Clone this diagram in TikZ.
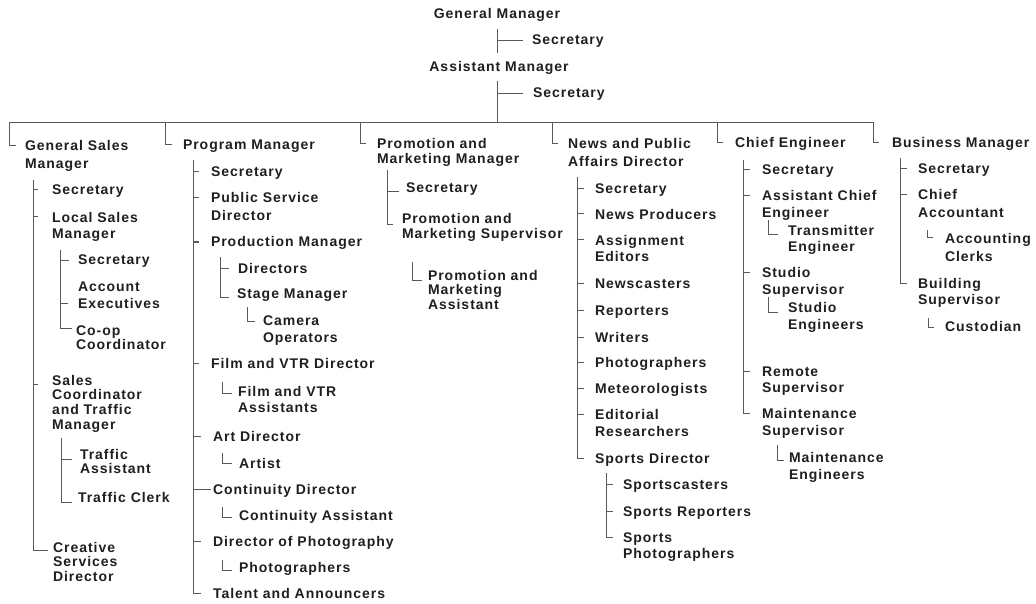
\documentclass[tikz,border=0pt]{standalone}
\usepackage{fontspec}
\newfontfamily\orgfont{Liberation Sans}[LetterSpace=7]
\definecolor{ink}{gray}{0.12}
\definecolor{wirec}{gray}{0.35}
\newcommand\capstrut{\rule{0pt}{10.5pt}}
\tikzset{
  lbl/.style={anchor=north west, yshift=5.5pt, inner sep=0pt, outer sep=0pt,
    align=left, text=ink, font=\orgfont\bfseries\fontsize{14pt}{17.5pt}\selectfont},
  tight/.style={font=\orgfont\bfseries\fontsize{14pt}{14.8pt}\selectfont},
  mid/.style={font=\orgfont\bfseries\fontsize{14pt}{16.5pt}\selectfont},
  ctr/.style={anchor=north},
  wire/.style={draw=wirec, line width=1pt},
}
% #1 style, #2 name, #3 position of first line, #4 gap before text, #5 tick drop, #6 text
\newcommand\kid[6]{%
  \node[lbl,#1] (#2) at (#3) {\capstrut#6};
  \coordinate (#2-t) at ([shift={(-#4pt,-#5pt)}]#2.north west);
}
% trunk from its top down to the last member, ending in a corner
\newcommand\orgtrunk[2]{\draw[wire] (#1) |- (#2-t);}
% short branch from a trunk to a member
\newcommand\orgtick[2]{\draw[wire] (#1 |- #2-t) -- (#2-t);}
% small L-shaped link to a single subordinate
\newcommand\elbow[3]{\draw[wire] (#1-t) -| ++(-#2pt,#3pt);}
% department head hanging from the long bar
\newcommand\orghead[2]{\draw[wire] (#1-t) -- ++(-#2pt,0pt) |- (bar);}
\begin{document}
\begin{tikzpicture}[x=1pt,y=-1pt]
\useasboundingbox[fill=white] (0,0) rectangle (1036,604);

% ---- top management
\kid{ctr}{gm}{497,14}{9}{5.5}{General Manager}
\kid{}{gms}{532,40}{9}{6.5}{Secretary}
\kid{ctr}{am}{499,67}{9}{5.5}{Assistant Manager}
\kid{}{ams}{533,93}{10}{6.5}{Secretary}
\coordinate (gm-r) at ([yshift=-7pt]gm.south);
\coordinate (am-top) at ([yshift=8pt]am.north);
\coordinate (am-r) at (497,81);
\coordinate (bar) at (497,123);
\draw[wire] (gm-r) -- (gm-r |- am-top);
\orgtick{gm-r}{gms}
\draw[wire] (am-r) -- (bar);
\orgtick{am-r}{ams}

% ---- general sales
\kid{}{gsm}{25,146}{9}{5.5}{General Sales\\Manager}
\orghead{gsm}{7}
\coordinate (gsm-r) at (33,180);
\kid{}{gss}{52,190}{14}{5.5}{Secretary}
\kid{mid}{lsm}{52,217}{14}{5.5}{Local Sales\\Manager}
\kid{tight}{scm}{52,380}{14}{9.5}{Sales\\Coordinator\\and Traffic\\Manager}
\kid{tight}{csd}{53,547}{5}{8.5}{Creative\\Services\\Director}
\orgtrunk{gsm-r}{csd}
\orgtick{gsm-r}{gss}
\orgtick{gsm-r}{lsm}
\orgtick{gsm-r}{scm}

\coordinate (lsm-r) at (60,250);
\kid{}{lss}{78,260}{9}{5.5}{Secretary}
\kid{}{ae}{78,286}{10}{22.5}{Account\\Executives}
\kid{tight}{coop}{76,330}{4}{3.5}{Co-op\\Coordinator}
\orgtrunk{lsm-r}{coop}
\orgtick{lsm-r}{lss}
\orgtick{lsm-r}{ae}

\coordinate (scm-r) at (61,438);
\kid{tight}{tas}{80,454}{8}{10.5}{Traffic\\Assistant}
\kid{}{tcl}{78,497}{6}{10.5}{Traffic Clerk}
\orgtrunk{scm-r}{tcl}
\orgtick{scm-r}{tas}

% ---- programming
\kid{}{pm}{183,145}{11}{5.5}{Program Manager}
\orghead{pm}{7}
\coordinate (pm-r) at (193,160);
\kid{}{pms}{211,172}{12}{5.5}{Secretary}
\kid{}{psd}{211,198}{12}{5.5}{Public Service\\Director}
\kid{}{prm}{211,242}{12}{5.5}{Production Manager}
\kid{}{fvd}{211,363}{12}{5.5}{Film and VTR Director}
\kid{}{ard}{213,436}{12}{5.5}{Art Director}
\kid{}{cnd}{213,489}{2}{5.5}{Continuity Director}
\kid{}{dph}{213,541}{12}{5.5}{Director of Photography}
\kid{}{tan}{213,593}{12}{5.5}{Talent and Announcers}
\orgtrunk{pm-r}{tan}
\foreach \k in {pms,psd,prm,fvd,ard,cnd,dph} {\orgtick{pm-r}{\k}}

\coordinate (prm-r) at (220,257);
\kid{}{dir}{238,268}{9}{5.5}{Directors}
\kid{}{stm}{237,293}{8}{9.5}{Stage Manager}
\orgtrunk{prm-r}{stm}
\orgtick{prm-r}{dir}
\kid{}{cam}{263,320}{8}{6.5}{Camera\\Operators}
\elbow{cam}{8}{14}
\kid{mid}{fva}{238,391}{6}{7.5}{Film and VTR\\Assistants}
\elbow{fva}{10}{11}
\kid{}{art}{239,463}{7}{5.5}{Artist}
\elbow{art}{10}{10}
\kid{}{cna}{239,515}{7}{7.5}{Continuity Assistant}
\elbow{cna}{10}{10}
\kid{}{pho}{239,567}{7}{8.5}{Photographers}
\elbow{pho}{10}{10}

% ---- promotion
\kid{tight}{pmm}{377,144}{11}{5.5}{Promotion and\\Marketing Manager}
\orghead{pmm}{6}
\coordinate (pmm-r) at (387,170);
\kid{}{pmse}{406,188}{7}{9.5}{Secretary}
\kid{tight}{pmsu}{402,219}{9}{11.5}{Promotion and\\Marketing Supervisor}
\orgtrunk{pmm-r}{pmsu}
\orgtick{pmm-r}{pmse}
\kid{tight}{pma}{428,275}{6}{10.5}{Promotion and\\Marketing\\Assistant}
\elbow{pma}{10}{18}

% ---- news
\kid{}{npa}{568,144}{10}{5.5}{News and Public\\Affairs Director}
\orghead{npa}{6}
\coordinate (npa-r) at (577,177);
\kid{}{nsec}{595,189}{11}{5.5}{Secretary}
\kid{}{npr}{595,214}{11}{5.5}{News Producers}
\kid{mid}{aed}{595,240}{11}{5.5}{Assignment\\Editors}
\kid{}{ncs}{595,283}{11}{5.5}{Newscasters}
\kid{}{rep}{595,310}{11}{5.5}{Reporters}
\kid{}{wri}{595,337}{11}{5.5}{Writers}
\kid{}{pht}{595,362}{11}{5.5}{Photographers}
\kid{}{met}{595,388}{11}{5.5}{Meteorologists}
\kid{}{edr}{595,414}{11}{5.5}{Editorial\\Researchers}
\kid{}{spd}{595,458}{11}{5.5}{Sports Director}
\orgtrunk{npa-r}{spd}
\foreach \k in {nsec,npr,aed,ncs,rep,wri,pht,met,edr} {\orgtick{npa-r}{\k}}

\coordinate (spd-r) at (606,473);
\kid{}{scs}{623,484}{10}{5.5}{Sportscasters}
\kid{}{spr}{623,511}{10}{5.5}{Sports Reporters}
\kid{mid}{sph}{623,537}{10}{5.5}{Sports\\Photographers}
\orgtrunk{spd-r}{sph}
\orgtick{spd-r}{scs}
\orgtick{spd-r}{spr}

% ---- engineering
\kid{}{ce}{735,143}{12}{5.5}{Chief Engineer}
\orghead{ce}{6}
\coordinate (ce-r) at (743,160);
\kid{}{csec}{762,170}{12}{5.5}{Secretary}
\kid{mid}{ace}{762,196}{12}{5.5}{Assistant Chief\\Engineer}
\kid{}{ssu}{762,272}{12}{5.5}{Studio\\Supervisor}
\kid{mid}{rsu}{762,371}{12}{5.5}{Remote\\Supervisor}
\kid{}{msu}{762,413}{12}{5.5}{Maintenance\\Supervisor}
\orgtrunk{ce-r}{msu}
\foreach \k in {csec,ace,ssu,rsu} {\orgtick{ce-r}{\k}}
\kid{mid}{tre}{788,230}{10}{10.5}{Transmitter\\Engineer}
\elbow{tre}{10}{15}
\kid{}{sten}{788,307}{10}{10.5}{Studio\\Engineers}
\elbow{sten}{10}{15}
\kid{}{men}{789,457}{5}{8.5}{Maintenance\\Engineers}
\elbow{men}{7}{15}

% ---- business
\kid{}{bm}{892,143}{13}{5.5}{Business Manager}
\orghead{bm}{6}
\coordinate (bm-r) at (900,158);
\kid{}{bsec}{918,169}{11}{5.5}{Secretary}
\kid{}{cac}{918,195}{11}{5.5}{Chief\\Accountant}
\kid{mid}{bsu}{918,283}{11}{5.5}{Building\\Supervisor}
\orgtrunk{bm-r}{bsu}
\orgtick{bm-r}{bsec}
\orgtick{bm-r}{cac}
\kid{}{acl}{945,239}{12}{4.5}{Accounting\\Clerks}
\elbow{acl}{6}{8}
\kid{}{cus}{945,326}{11}{6.5}{Custodian}
\elbow{cus}{6}{9}
\end{tikzpicture}
\end{document}
